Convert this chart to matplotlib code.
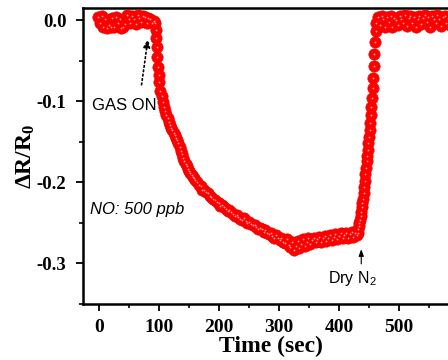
import numpy as np
import matplotlib
matplotlib.use("Agg")
import matplotlib.pyplot as plt
from matplotlib.ticker import MultipleLocator

plt.rcParams['axes.unicode_minus'] = False
plt.rcParams['mathtext.fontset'] = 'custom'
plt.rcParams['mathtext.rm'] = 'Liberation Sans'
plt.rcParams['mathtext.bf'] = 'Liberation Serif:bold'

# ---- data (time in s, dR/R0) ----
base1_start, base1_step = -2, 3
base1_vals = [0.004, -0.003, 0.005, -0.008, 0.002, -0.010, -0.006, -0.009, 0.003, -0.009,
              0.004, -0.004, 0.001, -0.010, -0.008, -0.005, 0.006, 0.001, -0.003, 0.005,
              0.002, -0.005, 0.006, 0.003, -0.002, 0.005, 0.004, -0.004, 0.003, 0.001,
              -0.003, -0.001]

drop_t = [93, 94, 95, 96, 97, 98, 99, 100, 102, 104, 106, 108, 110, 112, 114, 116, 118,
          120, 122, 124, 126, 128, 130, 132, 134, 136, 138, 140, 142, 144, 146, 148, 150,
          152, 154, 156, 158, 160]
drop_vals = [-0.004, -0.012, -0.022, -0.033, -0.045, -0.058, -0.068, -0.076, -0.087, -0.094,
             -0.101, -0.107, -0.112, -0.117, -0.121, -0.125, -0.129, -0.133, -0.136, -0.139,
             -0.142, -0.145, -0.148, -0.152, -0.157, -0.161, -0.165, -0.170, -0.174, -0.177,
             -0.180, -0.183, -0.186, -0.189, -0.191, -0.193, -0.195, -0.197]

flat_start, flat_step = 163, 3
flat_vals = [-0.200, -0.203, -0.205, -0.209, -0.210, -0.212, -0.213, -0.217, -0.218, -0.220,
             -0.222, -0.224, -0.225, -0.229, -0.228, -0.231, -0.233, -0.235, -0.234, -0.237,
             -0.239, -0.241, -0.240, -0.243, -0.245, -0.246, -0.244, -0.248, -0.250, -0.249,
             -0.251, -0.253, -0.252, -0.255, -0.257, -0.256, -0.258, -0.261, -0.259, -0.262,
             -0.264, -0.262, -0.266, -0.268, -0.265, -0.269, -0.271, -0.268, -0.273, -0.275,
             -0.270, -0.277, -0.280, -0.274, -0.283, -0.279, -0.272, -0.281, -0.276, -0.270,
             -0.278, -0.273, -0.269, -0.276, -0.271, -0.268, -0.274, -0.270, -0.267, -0.273,
             -0.269, -0.266, -0.272, -0.268, -0.265, -0.271, -0.267, -0.264, -0.270, -0.266,
             -0.263, -0.269, -0.265, -0.262, -0.268, -0.264, -0.261, -0.267, -0.263, -0.265]

rise_start, rise_step = 431, 1
rise_vals = [-0.262, -0.258, -0.254, -0.250, -0.246, -0.241, -0.236, -0.231, -0.226, -0.220,
             -0.213, -0.206, -0.198, -0.190, -0.182, -0.174, -0.167, -0.160, -0.152, -0.144,
             -0.136, -0.127, -0.117, -0.107, -0.096, -0.084, -0.071, -0.057, -0.042, -0.027,
             -0.013, -0.003]

base2_start, base2_step = 465, 3
base2_vals = [0.004, -0.006, 0.005, 0.001, -0.008, 0.004, -0.002, 0.005, -0.009, 0.003,
              0.000, -0.006, 0.005, 0.002, -0.004, 0.006, -0.007, 0.003, 0.005, -0.003,
              0.004, -0.009, 0.002, 0.005, -0.005, 0.003, 0.006, -0.002, 0.004, -0.008,
              0.005, 0.001, -0.004, 0.006, 0.002, -0.007, 0.004, 0.005, -0.003, 0.003,
              -0.006, 0.004, 0.001]

x_ticks = [0, 100, 200, 300, 400, 500]
y_ticks = [0.0, -0.1, -0.2, -0.3]
y_ticklabels = ["0.0", "-0.1", "-0.2", "-0.3"]

# ---- assemble ----
def grid(start, step, vals):
    return start + step * np.arange(len(vals))

t = np.concatenate([grid(base1_start, base1_step, base1_vals), np.array(drop_t),
                    grid(flat_start, flat_step, flat_vals), grid(rise_start, rise_step, rise_vals),
                    grid(base2_start, base2_step, base2_vals)])
v = np.concatenate([base1_vals, drop_vals, flat_vals, rise_vals, base2_vals])

fig = plt.figure(figsize=(4.48, 3.6), dpi=100)
ax = fig.add_axes([83/448, 56/360, 376/448, 296/360])

ax.plot(t, v, 'o', ms=8.2, mfc='#ff0000', mec='#f00000', mew=0.4, ls='none', zorder=3)
ax.plot(t, v, 'o', ms=1.3, mfc='#ffb0b0', mec='none', ls='none', alpha=0.9, zorder=4)

ax.set_xlim(-27, 600)
ax.set_ylim(-0.35, 0.015)
ax.set_xticks(x_ticks)
ax.set_xticklabels([str(x) for x in x_ticks])
ax.set_yticks(y_ticks)
ax.set_yticklabels(y_ticklabels)
ax.xaxis.set_minor_locator(MultipleLocator(50))
ax.yaxis.set_minor_locator(MultipleLocator(0.05))
ax.tick_params(which='major', direction='out', length=5, width=1.3, pad=6)
ax.tick_params(which='minor', direction='out', length=3, width=1.2)
ax.tick_params(axis='x', labelsize=14, pad=6)
ax.tick_params(axis='y', labelsize=13.5, pad=7)
for lab in ax.get_xticklabels() + ax.get_yticklabels():
    lab.set_fontfamily('Liberation Serif')
    lab.set_fontweight('bold')
for s in ax.spines.values():
    s.set_linewidth(1.8)

ax.set_xlabel('Time (sec)', fontsize=17, fontweight='bold', family='Liberation Serif', labelpad=0)
ax.set_ylabel(r'$\mathbf{\Delta R/R_0}$', fontsize=17, labelpad=0)

ax.annotate('', xy=(82, -0.0196), xytext=(70, -0.083),
            arrowprops=dict(arrowstyle='-|>,head_length=0.5,head_width=0.2', ls=':', lw=1.2, color='k'))
ax.text(42, -0.1055, 'GAS ON', family='Liberation Sans', fontsize=12, ha='center', va='center')
ax.annotate('', xy=(437, -0.279), xytext=(437, -0.304),
            arrowprops=dict(arrowstyle='-|>,head_length=0.4,head_width=0.15', lw=0.8, color='k'))
ax.text(422, -0.319, r'Dry N$_2$', family='Liberation Sans', fontsize=11.5, ha='center', va='center')
ax.text(-15, -0.233, 'NO: 500 ppb', family='Liberation Sans', style='italic', fontsize=12,
        ha='left', va='center')

fig.savefig('out.png', dpi=100)
